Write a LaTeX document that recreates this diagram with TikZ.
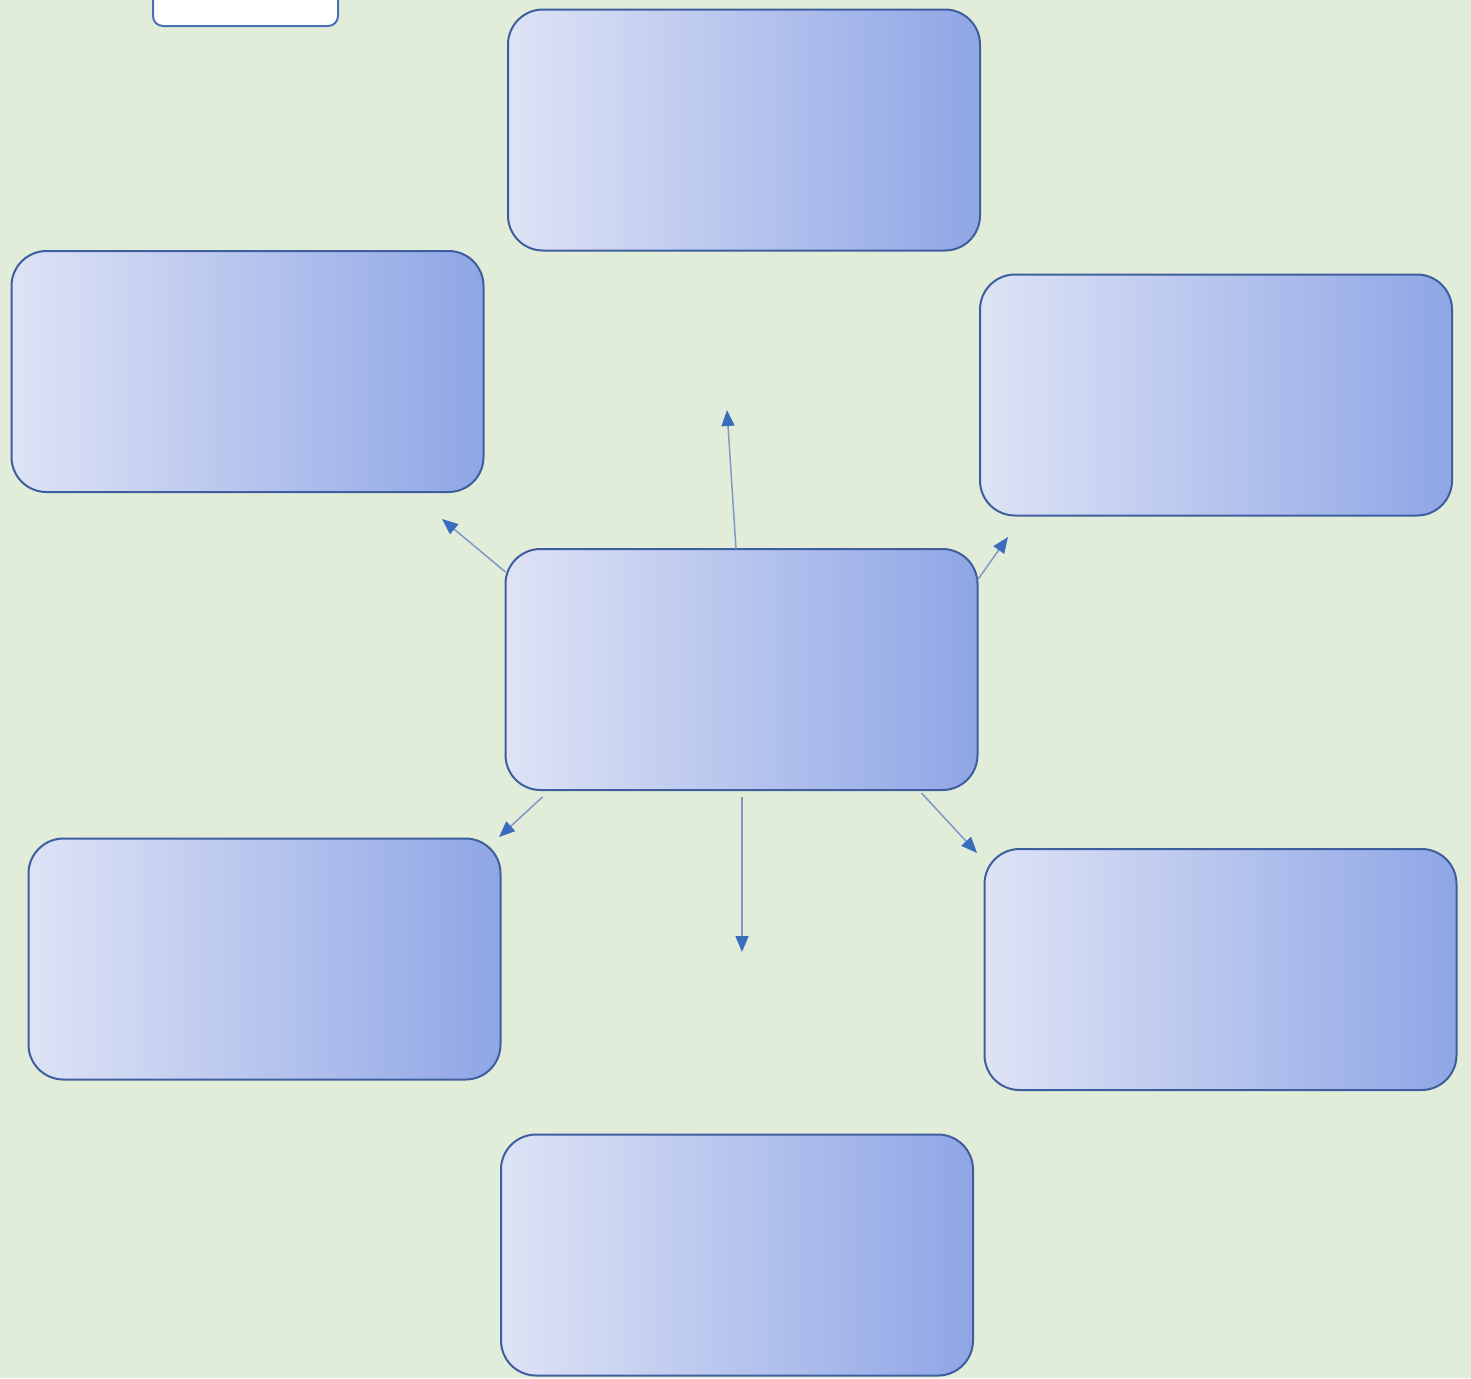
\documentclass[tikz,border=0pt]{standalone}
\usetikzlibrary{arrows.meta,calc}
\definecolor{bg}{HTML}{E1EDD9}
\definecolor{boxline}{HTML}{3F5E9E}
\definecolor{gradL}{HTML}{DEE3F5}
\definecolor{gradM}{HTML}{C2CCEF}
\definecolor{gradR}{HTML}{8FA6E6}
\definecolor{arrline}{HTML}{7F98C6}
\definecolor{arrhead}{HTML}{3A6CC0}
\definecolor{smallline}{HTML}{4A6FB5}
\tikzset{
  gbox/.style={draw=boxline, line width=1pt, rounded corners=17.5pt,
    left color=gradL, middle color=gradM, right color=gradR,
    minimum width=236pt, minimum height=120.5pt, inner sep=0pt, outer sep=0pt},
  conn/.style={draw=arrline, line width=0.75pt,
    -{Triangle[length=8pt,width=6.5pt,color=arrhead,fill=arrhead]}}
}
\begin{document}
\begin{tikzpicture}[x=0.5pt,y=-0.5pt]
\fill[bg] (0,0) rectangle (1471,1378);
\useasboundingbox (0,0) rectangle (1471,1378);
\clip (0,0) rectangle (1471,1378);
% small white box at top-left (cut off by the top edge)
\node[draw=smallline, line width=1pt, fill=white, rounded corners=5pt,
  minimum width=92.5pt, minimum height=30pt, inner sep=0pt] (note) at (245.5,-4) {};
\node[gbox] (top) at (744,130) {};
\node[gbox] (lu) at (247.5,371.5) {};
\node[gbox] (ru) at (1216,395) {};
\node[gbox] (c) at (741.5,669.5) {};
\node[gbox] (ll) at (264.5,959) {};
\node[gbox] (rl) at (1220.5,969.5) {};
\node[gbox] (bot) at (737,1255) {};
\coordinate (eup) at (727,410);
\coordinate (eul) at (442,519);
\coordinate (eur) at (1008,537);
\coordinate (ell) at (499,837);
\coordinate (edn) at (742,952);
\coordinate (elr) at (977,853);
\draw[conn] ($(c.north)+(-5.5,0)$) -- (eup);
\draw[conn] ($(c.north west)+(0,23)$) -- (eul);
\draw[conn] ($(c.north east)+(0,31)$) -- (eur);
\draw[conn] ($(c.south west)+(37,7)$) -- (ell);
\draw[conn] ($(c.south)+(0.5,7)$) -- (edn);
\draw[conn] ($(c.south east)+(-56,3)$) -- (elr);
\end{tikzpicture}
\end{document}
